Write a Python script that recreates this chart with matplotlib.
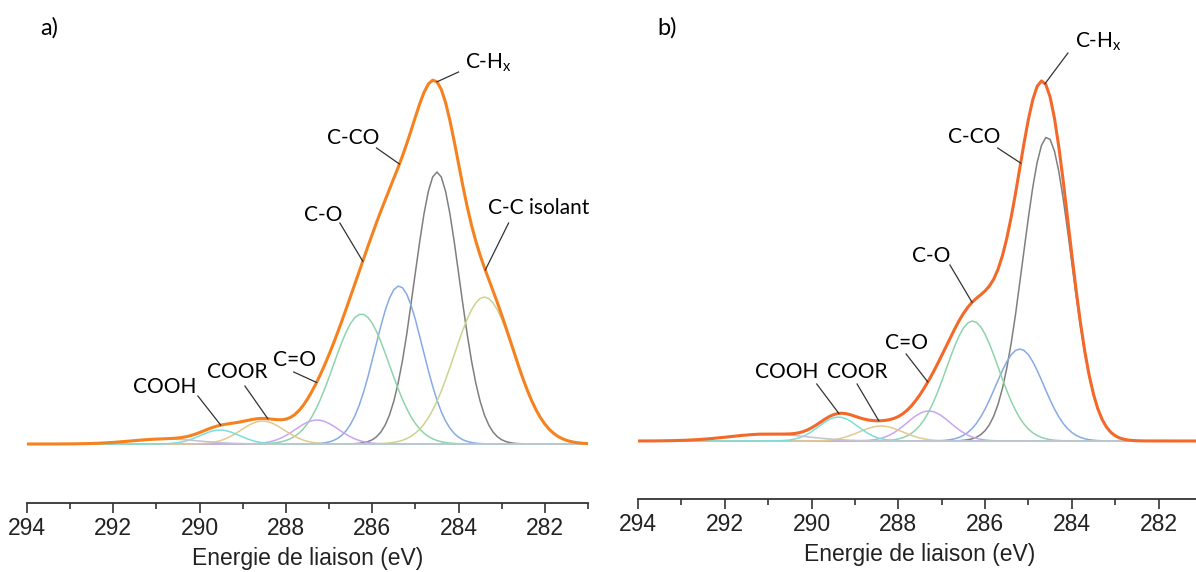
import numpy as np
import matplotlib
matplotlib.use("Agg")
import matplotlib.pyplot as plt

# XPS C1s fit components: centre (eV), height (a.u.), sigma (eV)
names = ["C-Hx", "C-CO", "C-O", "C-C isolant", "C=O", "COOR", "COOH", "pi"]
colors = ["#7f7f7f", "#86aae6", "#8ed4ab", "#c9d58e", "#c7a6ef", "#e2c98f", "#79dfdb", "#c4c4d4"]

centres_a = [284.50, 285.38, 286.25, 283.40, 287.28, 288.54, 289.53, 290.8]
heights_a = [272, 158, 130, 147, 24, 23, 14, 5]
sigmas_a = [0.52, 0.55, 0.65, 0.70, 0.50, 0.50, 0.45, 0.8]

centres_b = [284.57, 285.20, 286.29, 283.50, 287.30, 288.40, 289.38, 291.0]
heights_b = [304, 92, 120, 0, 30, 15, 24, 7]
sigmas_b = [0.55, 0.55, 0.60, 0.60, 0.50, 0.50, 0.45, 0.9]

# annotations: label, energy on envelope, text (eV, h, align), leader start (eV, h)
labels_a = [
    ("C-H$_\\mathregular{x}$", 284.50, (283.84, 381, "left"), (284.00, 372)),
    ("C-CO", 285.37, (286.43, 306, "center"), (285.90, 296)),
    ("C-O", 286.22, (287.13, 229, "center"), (286.75, 221)),
    ("C-C isolant", 283.38, (282.15, 236, "center"), (282.84, 221)),
    ("COOH", 289.51, (290.81, 57, "center"), (290.04, 48)),
    ("COOR", 288.42, (289.12, 72, "center"), (288.95, 58)),
    ("C=O", 287.29, (287.80, 84, "center"), (287.82, 72)),
]
labels_b = [
    ("C-H$_\\mathregular{x}$", 284.62, (283.93, 399, "left"), (284.09, 388)),
    ("C-CO", 285.18, (286.24, 304, "center"), (285.71, 293)),
    ("C-O", 286.30, (287.25, 185, "center"), (286.81, 176)),
    ("C=O", 287.32, (287.80, 98, "center"), (287.82, 87)),
    ("COOH", 289.37, (290.57, 69, "center"), (289.88, 57)),
    ("COOR", 288.45, (288.95, 69, "center"), (288.95, 57)),
]

W, H = 1196, 572
fig = plt.figure(figsize=(W / 100, H / 100), dpi=100)

energy = np.linspace(281, 294, 131)


def gauss(e, c, h, s):
    return h * np.exp(-(e - c) ** 2 / (2 * s ** 2))


def panel(rect, ylim, centres, heights, sigmas, labels, env_color):
    ax = fig.add_axes(rect)
    comps = [gauss(energy, c, h, s) for c, h, s in zip(centres, heights, sigmas)]
    for comp, col in zip(comps, colors):
        ax.plot(energy, comp, color=col, lw=1.1)
    env = np.sum(comps, axis=0)
    ax.plot(energy, env, color=env_color, lw=2.2)

    for text, e, (tx, ty, ha), (lx, ly) in labels:
        ey = np.interp(e, energy, env)
        ax.plot([lx, e], [ly, ey], color="#333333", lw=0.9, clip_on=False)
        ax.text(tx, ty, text, ha=ha, va="center", fontsize=15,
                family="Lato", clip_on=False)

    ax.set_xlim(294, 281)
    ax.set_ylim(*ylim)
    for s in ["left", "right", "top"]:
        ax.spines[s].set_visible(False)
    ax.spines["bottom"].set_color("#333333")
    ax.spines["bottom"].set_linewidth(1.3)
    ax.set_yticks([])
    ax.set_xticks(np.arange(294, 281, -2))
    ax.set_xticks(np.arange(293, 280, -2), minor=True)
    ax.tick_params(axis="x", which="major", length=7, width=1.2, color="#333333",
                   labelsize=16.5, pad=3)
    ax.tick_params(axis="x", which="minor", length=4, width=1.2, color="#333333")
    for lab in ax.get_xticklabels():
        lab.set_family("Liberation Sans")
        lab.set_color("#222222")
    ax.set_xlabel("Energie de liaison (eV)", fontsize=16.5,
                  family="Liberation Sans", color="#222222", labelpad=5)
    return ax


# panel a: axis 294 at x=27, 281 at x=588; spine y=503; baseline y=444
ax_a = panel([27 / W, (H - 503) / H, (588 - 27) / W, (503 - 40) / H],
             (-59, 404), centres_a, heights_a, sigmas_a, labels_a, "#f5821f")

# panel b: 294 at x=638, 281 at x=1202; spine y=499; baseline y=441
ax_b = panel([638 / W, (H - 499) / H, (1202 - 638) / W, (499 - 40) / H],
             (-58, 401), centres_b, heights_b, sigmas_b, labels_b, "#f2692a")

fig.text(40 / W, 1 - 28 / H, "a)", fontsize=17, family="Lato", va="center")
fig.text(657 / W, 1 - 28 / H, "b)", fontsize=17, family="Lato", va="center")

fig.savefig("out.png", dpi=100)
